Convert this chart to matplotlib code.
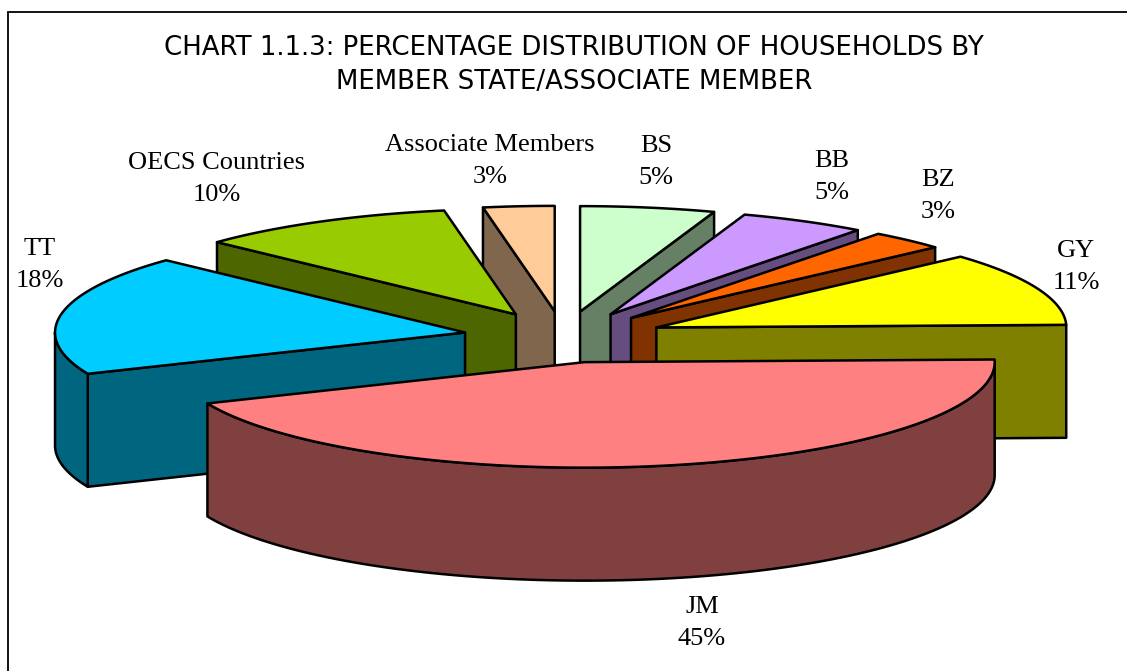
import numpy as np
import matplotlib
matplotlib.use('Agg')
import matplotlib.pyplot as plt
from matplotlib.patches import Polygon, Rectangle

# clockwise from 12 o'clock
names = ['BS', 'BB', 'BZ', 'GY', 'JM', 'TT', 'OECS Countries', 'Associate Members']
values = [5.3, 5.0, 3.0, 11.3, 44.0, 18.4, 10.2, 2.8]
pct_labels = ['5%', '5%', '3%', '11%', '45%', '18%', '10%', '3%']
top_colors = ['#CCFFCC', '#CC99FF', '#FF6600', '#FFFF00', '#FF8080', '#00CCFF', '#99CC00', '#FFCC99']
side_colors = ['#668066', '#664D80', '#803300', '#808000', '#804040', '#006680', '#4D6600', '#80664D']
title_lines = ['CHART 1.1.3: PERCENTAGE DISTRIBUTION OF HOUSEHOLDS BY',
               'MEMBER STATE/ASSOCIATE MEMBER']

# label centres in pixels
label_xy = [(656, 162), (832, 177), (938, 196), (1076, 267), (702, 623), (40, 265), (217, 179), (490, 161)]

# pie geometry in pixels
cx, cy = 563.5, 337
rx, ry = 410, 105.5
explode = 100
depth = 113
lw = 1.8

fig = plt.figure(figsize=(11.27, 6.71), dpi=100)
ax = fig.add_axes([0, 0, 1, 1])
ax.set_xlim(0, 1127)
ax.set_ylim(671, 0)
ax.axis('off')

ax.add_patch(Rectangle((8, 12), 1200, 800, fc='white', ec='black', lw=1.3))


def point(tip, a, r=1.0):
    return tip[0] + r * rx * np.sin(a), tip[1] - r * ry * np.cos(a)


def extrude(pts):
    return [(x, y + depth) for x, y in pts]


def draw_face(pts, color, z):
    ax.add_patch(Polygon(pts, closed=True, fc=color, ec='black', lw=lw, joinstyle='round', zorder=z))


fractions = np.array(values) / sum(values)
ends = np.cumsum(fractions) * 2 * np.pi
starts = ends - fractions * 2 * np.pi
mids = (starts + ends) / 2

# back slices first so the front ones paint over them
order = np.argsort(-np.cos(mids))
for z, i in enumerate(order):
    a0, a1 = starts[i], ends[i]
    tip = point((cx, cy), mids[i], explode / rx)
    arc = [point(tip, a) for a in np.linspace(a0, a1, 120)]

    # cut faces, only the ones turned towards the viewer
    if np.sin(a0) < 0:
        edge = [tip, arc[0]]
        draw_face(edge + extrude(edge)[::-1], side_colors[i], z + 1)
    if np.sin(a1) > 0:
        edge = [tip, arc[-1]]
        draw_face(edge + extrude(edge)[::-1], side_colors[i], z + 1)

    # outer rim on the front half of the ellipse
    lo, hi = max(a0, np.pi / 2), min(a1, 3 * np.pi / 2)
    if hi > lo:
        rim = [point(tip, a) for a in np.linspace(lo, hi, 120)]
        draw_face(rim + extrude(rim)[::-1], side_colors[i], z + 1)

    draw_face([tip] + arc, top_colors[i], z + 1)

for name, pct, (x, y) in zip(names, pct_labels, label_xy):
    ax.text(x, y, name + '\n' + pct, ha='center', va='center', fontsize=19,
            family='Liberation Serif', linespacing=1.57, zorder=50)

ax.text(574, 65, '\n'.join(title_lines), ha='center', va='center', fontsize=18.7,
        family='DejaVu Sans', linespacing=1.36, zorder=50)

fig.savefig('out.png', dpi=100)
